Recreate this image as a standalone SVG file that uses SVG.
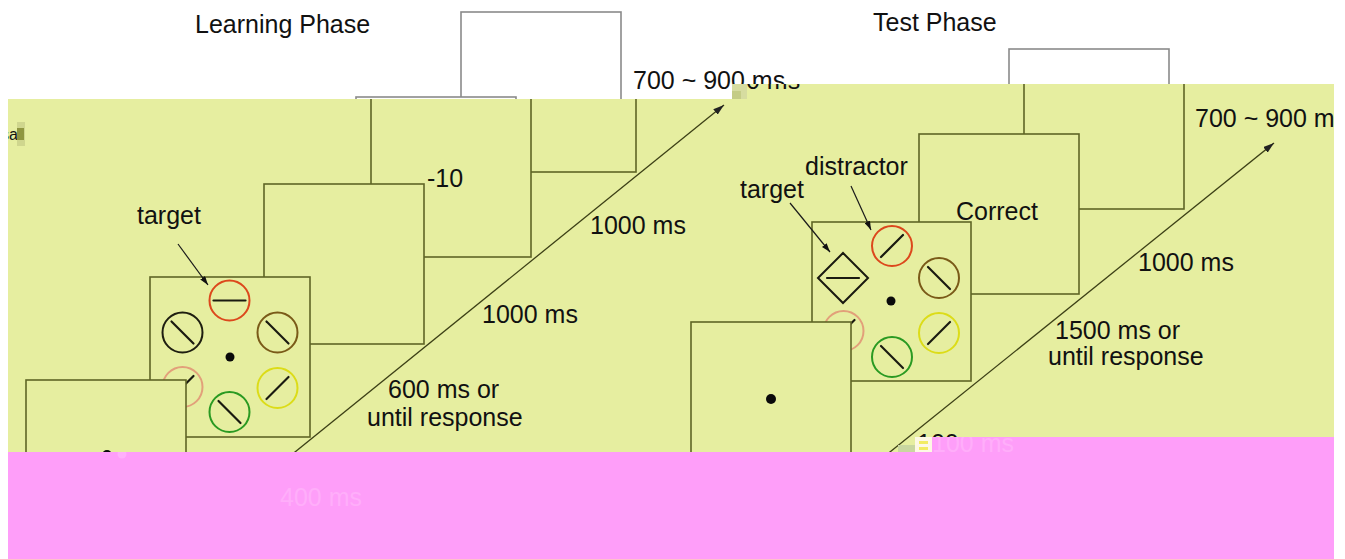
<svg xmlns="http://www.w3.org/2000/svg" width="1345" height="559" viewBox="0 0 1345 559">
<defs>
<style>
.t{font-family:"Liberation Sans",Arial,Helvetica,sans-serif;font-size:25px;fill:#111}
.frame{fill:#e6eea0;stroke:#5f6526;stroke-width:1.6}
.gframe{fill:#fff;stroke:#8a8a8a;stroke-width:1.6}
.bar{stroke:#1a1a10;stroke-width:2.2;stroke-linecap:round;fill:none}
.c{fill:none;stroke-width:2}
.red{stroke:#dc481c}.blk{stroke:#1e1e10}.brn{stroke:#7a5a18}.sal{stroke:#e2a07a}.yel{stroke:#dcdc18}.grn{stroke:#2a9a22}
.dot{fill:#0a0a0a}
.axis{stroke:#3d4016;stroke-width:1.3;fill:none}
.lbl{stroke:#1a1a1a;stroke-width:1.2;fill:none}
.faint{font-family:"Liberation Sans",Arial,Helvetica,sans-serif;font-size:25px;fill:#ffaefa}
</style>
<marker id="ah" markerUnits="userSpaceOnUse" markerWidth="11" markerHeight="7" refX="11" refY="3.5" orient="auto"><path d="M0,0 L11,3.5 L0,7 z" fill="#222"/></marker>
<marker id="ahs" markerUnits="userSpaceOnUse" markerWidth="9" markerHeight="6" refX="9" refY="3" orient="auto"><path d="M0,0 L9,3 L0,6 z" fill="#111"/></marker>
<clipPath id="clipY"><polygon points="8,99 732,99 732,84 1334,84 1334,452 8,452"/></clipPath>
<clipPath id="clipP"><polygon points="8,452 932,452 932,437 1334,437 1334,559 8,559"/></clipPath>
</defs>
<rect x="0" y="0" width="1345" height="559" fill="#fff"/>

<g id="white-layer">
<text class="t" x="195" y="33">Learning Phase</text>
<text class="t" x="873" y="31">Test Phase</text>
<rect class="gframe" x="461" y="12" width="160" height="160"/>
<rect class="gframe" x="356" y="97" width="160" height="160"/>
<rect class="gframe" x="1009" y="49" width="160" height="160"/>
<text class="t" x="633" y="89">700 ~ 900 ms</text>
</g>

<polygon points="8,99 732,99 732,84 1334,84 1334,452 8,452" fill="#e6eea0"/>

<g id="yellow-layer" clip-path="url(#clipY)">
<text class="t" x="648" y="89">700 ~ 900 ms</text>
<text x="1" y="140" style="font-family:'Liberation Sans',Arial,sans-serif;font-size:16px;fill:#111">sa</text>

<g id="learn-blank2"><rect class="frame" x="476" y="12" width="160" height="160"/></g>
<g id="learn-feedback"><rect class="frame" x="371" y="97" width="160" height="160"/><text class="t" x="427" y="187">-10</text></g>
<g id="learn-blank1"><rect class="frame" x="264" y="184" width="160" height="160"/></g>
<g id="learn-search">
<rect class="frame" x="150" y="277" width="160" height="160"/>
<circle class="c red" cx="229.5" cy="300.5" r="20"/><line class="bar" x1="213.5" y1="300.5" x2="245.5" y2="300.5"/>
<circle class="c blk" cx="182.5" cy="332.5" r="20"/><line class="bar" x1="171.5" y1="321.5" x2="193.5" y2="343.5"/>
<circle class="c brn" cx="277.5" cy="332.5" r="20"/><line class="bar" x1="266.5" y1="321.5" x2="288.5" y2="343.5"/>
<circle class="c sal" cx="182.5" cy="387" r="20"/><line class="bar" x1="171.5" y1="398" x2="193.5" y2="376"/>
<circle class="c yel" cx="277.5" cy="388" r="20"/><line class="bar" x1="266.5" y1="399" x2="288.5" y2="377"/>
<circle class="c grn" cx="229.5" cy="412" r="20"/><line class="bar" x1="218.5" y1="401" x2="240.5" y2="423"/>
<circle class="dot" cx="230" cy="357" r="4.5"/>
</g>
<g id="learn-fixation"><rect class="frame" x="26" y="380" width="160" height="160"/><circle class="dot" cx="107" cy="455" r="5"/></g>
<g id="learn-target-label"><text class="t" x="137" y="224">target</text></g>

<g id="test-blank"><rect class="frame" x="1024" y="49" width="160" height="160"/></g>
<g id="test-feedback"><rect class="frame" x="919" y="134" width="160" height="160"/><text class="t" x="956" y="220">Correct</text></g>
<g id="test-search">
<rect class="frame" x="812" y="222" width="159" height="159"/>
<polygon points="818,278 843,253 868,278 843,303" fill="none" stroke="#1a1a10" stroke-width="2"/><line class="bar" x1="827" y1="278" x2="859" y2="278"/>
<circle class="c red" cx="892" cy="246" r="20"/><line class="bar" x1="881" y1="257" x2="903" y2="235"/>
<circle class="c brn" cx="939" cy="278" r="20"/><line class="bar" x1="928" y1="267" x2="950" y2="289"/>
<circle class="c sal" cx="843.5" cy="331" r="20"/><line class="bar" x1="832.5" y1="342" x2="854.5" y2="320"/>
<circle class="c yel" cx="939" cy="333" r="20"/><line class="bar" x1="928" y1="344" x2="950" y2="322"/>
<circle class="c grn" cx="892" cy="357" r="20"/><line class="bar" x1="881" y1="346" x2="903" y2="368"/>
<circle class="dot" cx="891" cy="301" r="4.5"/>
</g>
<g id="test-fixation"><rect class="frame" x="691" y="322" width="160" height="160"/><circle class="dot" cx="771" cy="399" r="5"/></g>
<g id="test-labels">
<text class="t" x="740" y="198">target</text>
<text class="t" x="805" y="175">distractor</text>
</g>

<g id="connectors">
<line class="axis" x1="250" y1="488.4" x2="724" y2="105" marker-end="url(#ah)"/>
<line class="axis" x1="860" y1="476.1" x2="1274" y2="143" marker-end="url(#ah)"/>
<line class="lbl" x1="178" y1="244" x2="208" y2="285" marker-end="url(#ahs)"/>
<line class="lbl" x1="790" y1="203" x2="830" y2="252" marker-end="url(#ahs)"/>
<line class="lbl" x1="851" y1="186" x2="871" y2="230" marker-end="url(#ahs)"/>
</g>

<g id="time-labels">
<text class="t" x="590" y="234">1000 ms</text>
<text class="t" x="482" y="323">1000 ms</text>
<text class="t" x="388" y="398">600 ms or</text>
<text class="t" x="367" y="426">until response</text>
<text class="t" x="1195" y="127">700 ~ 900 ms</text>
<text class="t" x="1138" y="271">1000 ms</text>
<text class="t" x="1055" y="339">1500 ms or</text>
<text class="t" x="1048" y="365">until response</text>
<text class="t" x="917" y="452">100 ms</text>
</g>
</g>

<polygon points="8,452 932,452 932,437 1334,437 1334,559 8,559" fill="#fe9ef9"/>
<g id="pink-layer" clip-path="url(#clipP)">
<text class="faint" x="280" y="506">400 ms</text>
<text class="faint" x="932" y="452">100 ms</text>
<circle cx="122" cy="454" r="4.5" fill="#ffb0fb"/>
</g>

<g id="artifacts">
<rect x="17" y="122" width="8" height="24" fill="#cfd68e"/>
<rect x="17" y="128" width="7" height="12" fill="#8f9640"/>
<rect x="732" y="84" width="15" height="15" fill="#d6dca0"/>
<rect x="732" y="91" width="9" height="8" fill="#c4cc86"/>
<rect x="898" y="445" width="17" height="7" fill="#c9d6a0"/>
<rect x="915" y="437" width="17" height="15" fill="#fdf8e4"/>
<rect x="919" y="441" width="9" height="3" fill="#f2ec60"/>
<rect x="919" y="447" width="9" height="3" fill="#f2ec60"/>
</g>
</svg>
